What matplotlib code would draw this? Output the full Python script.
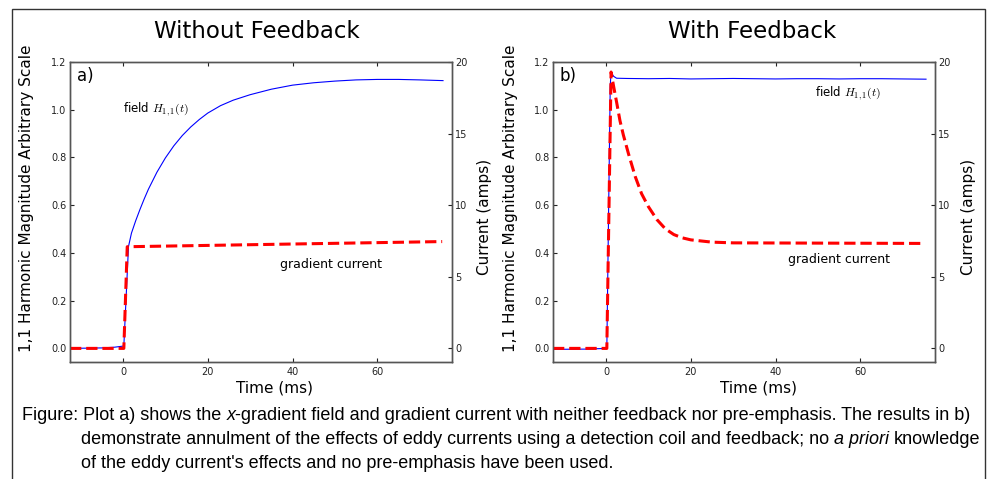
import numpy as np
import matplotlib
matplotlib.use("Agg")
import matplotlib.pyplot as plt
from matplotlib.patches import Rectangle

plt.rcParams['mathtext.fontset'] = 'cm'

# panel a) without feedback
t_field_a = [-12.5, -5.0, -2.0, 0.2, 1.3, 2, 3, 4, 5, 6, 8, 10, 12, 14, 16, 18, 20,
             23, 26, 30, 35, 40, 45, 50, 55, 60, 65, 70, 75.5]
field_a = [0.0, 0.002, 0.005, 0.01, 0.427, 0.483, 0.535, 0.582, 0.626, 0.667, 0.738,
           0.798, 0.849, 0.892, 0.928, 0.959, 0.986, 1.017, 1.040, 1.063, 1.086,
           1.103, 1.113, 1.120, 1.125, 1.127, 1.127, 1.125, 1.122]
t_current_a = [-12.5, 0.2, 1.0, 75.3]
current_a = [0.0, 0.0, 7.1, 7.46]

# panel b) with feedback
t_field_b = [-12.5, -5.0, 0.2, 1.0, 1.2, 1.8, 2.5, 5, 10, 15, 20, 25, 30, 35, 40,
             45, 50, 55, 60, 65, 70, 75.5]
field_b = [-0.004, -0.003, 0.0, 1.10, 1.157, 1.14, 1.132, 1.131, 1.130, 1.131, 1.129,
           1.130, 1.131, 1.130, 1.129, 1.130, 1.130, 1.129, 1.130, 1.130, 1.129, 1.128]
t_current_b = [-12.5, 0.2, 1.2, 1.8, 2.5, 3.3, 4.1, 5.3, 6.9, 8.4, 10.0, 12.0, 14.0,
               16.0, 18.0, 20.0, 25.0, 30.0, 75.3]
current_b = [0.0, 0.0, 19.3, 18.3, 17.2, 15.9, 14.9, 13.6, 12.0, 10.8, 9.9, 9.0, 8.35,
             7.95, 7.72, 7.58, 7.42, 7.37, 7.33]

x_ticks = [0, 20, 40, 60]
field_ticks = [0.0, 0.2, 0.4, 0.6, 0.8, 1.0, 1.2]
current_ticks = [0, 5, 10, 15, 20]

W, H = 991, 479
fig = plt.figure(figsize=(W / 100, H / 100), dpi=100)

spine_color = '#555555'


def panel(left_px, t_f, f, t_c, c, tag, title, title_x, field_xy, grad_xy, xlabel_x, ylabel_x, rlabel_x):
    ax = fig.add_axes([left_px / W, 1 - 362 / H, 381.5 / W, 300 / H])
    ax.plot(t_f, f, color='b', lw=0.8)
    ax.set_xlim(-12.5, 77.5)
    ax.set_ylim(-0.057, 1.2)
    ax.set_xticks(x_ticks)
    ax.set_yticks(field_ticks)
    ax.set_yticklabels([f"{v:.1f}" for v in field_ticks])
    ax.tick_params(direction='in', length=3, width=0.8, labelsize=7, top=True,
                   right=False, colors='#222222')
    ax.tick_params(axis='y', pad=2.5)
    ax.tick_params(axis='x', pad=3.5)

    ax2 = ax.twinx()
    ax2.plot(t_c, c, color='r', ls='--', lw=2.2)
    ax2.set_ylim(-0.95, 20)
    ax2.set_yticks(current_ticks)
    ax2.tick_params(direction='in', length=3, width=0.8, labelsize=7, pad=2.5,
                    colors='#222222')
    for a in (ax, ax2):
        for s in a.spines.values():
            s.set_color(spine_color)
            s.set_linewidth(1.0)

    ax.text(0.018, 0.953, tag, transform=ax.transAxes, fontsize=12, ha='left', va='center')
    ax.text(field_xy[0], field_xy[1], r'field $H_{1,1}(t)$', fontsize=8.5, ha='left', va='center')
    ax.text(grad_xy[0], grad_xy[1], 'gradient current', fontsize=9, ha='left', va='center')

    fig.text(title_x / W, 1 - 32 / H, title, fontsize=16.5, ha='center', va='center')
    fig.text(xlabel_x / W, 1 - 388 / H, 'Time (ms)', fontsize=11, ha='center', va='center')
    fig.text(ylabel_x / W, 1 - 198 / H, '1,1 Harmonic Magnitude Arbitrary Scale',
             fontsize=11, rotation=90, ha='center', va='center')
    fig.text(rlabel_x / W, 1 - 217 / H, 'Current (amps)', fontsize=11, rotation=90,
             ha='center', va='center')


panel(70, t_field_a, field_a, t_current_a, current_a, 'a)', 'Without Feedback', 257,
      (0.0, 1.0), (37.0, 0.35), 275, 27, 485)
panel(553, t_field_b, field_b, t_current_b, current_b, 'b)', 'With Feedback', 752,
      (49.4, 1.067), (42.9, 0.372), 759, 510, 968)

# outer frame
fig.add_artist(Rectangle((11.5 / W, -0.02), 973.5 / W, 1.02 - 8.5 / H, fill=False,
                         edgecolor='#333333', lw=1.0, transform=fig.transFigure))

# caption with italic runs
cap_font = 'Liberation Sans'
cap_size = 13.0
renderer = fig.canvas.get_renderer()


def width_of(s, style):
    t = fig.text(0, 0, s, family=cap_font, fontsize=cap_size, style=style)
    w = t.get_window_extent(renderer).width
    t.remove()
    return w


space = width_of('a a', 'normal') - width_of('aa', 'normal')


def runs(x, y_top, parts):
    for s, style, gap in parts:
        t = fig.text(x / W, 1 - y_top / H, s, family=cap_font, fontsize=cap_size,
                     style=style, ha='left', va='baseline')
        x += t.get_window_extent(renderer).width + (space if gap else 0)


runs(22, 420, [("Figure: Plot a) shows the", 'normal', True),
               ("x", 'italic', False),
               ("-gradient field and gradient current with neither feedback nor "
                "pre-emphasis. The results in b)", 'normal', False)])
runs(81, 444, [("demonstrate annulment of the effects of eddy currents using a "
                "detection coil and feedback; no", 'normal', True),
               ("a priori", 'italic', True),
               ("knowledge", 'normal', False)])
runs(81, 468, [("of the eddy current's effects and no pre-emphasis have been used.",
                'normal', False)])

fig.savefig('out.png', dpi=100)
